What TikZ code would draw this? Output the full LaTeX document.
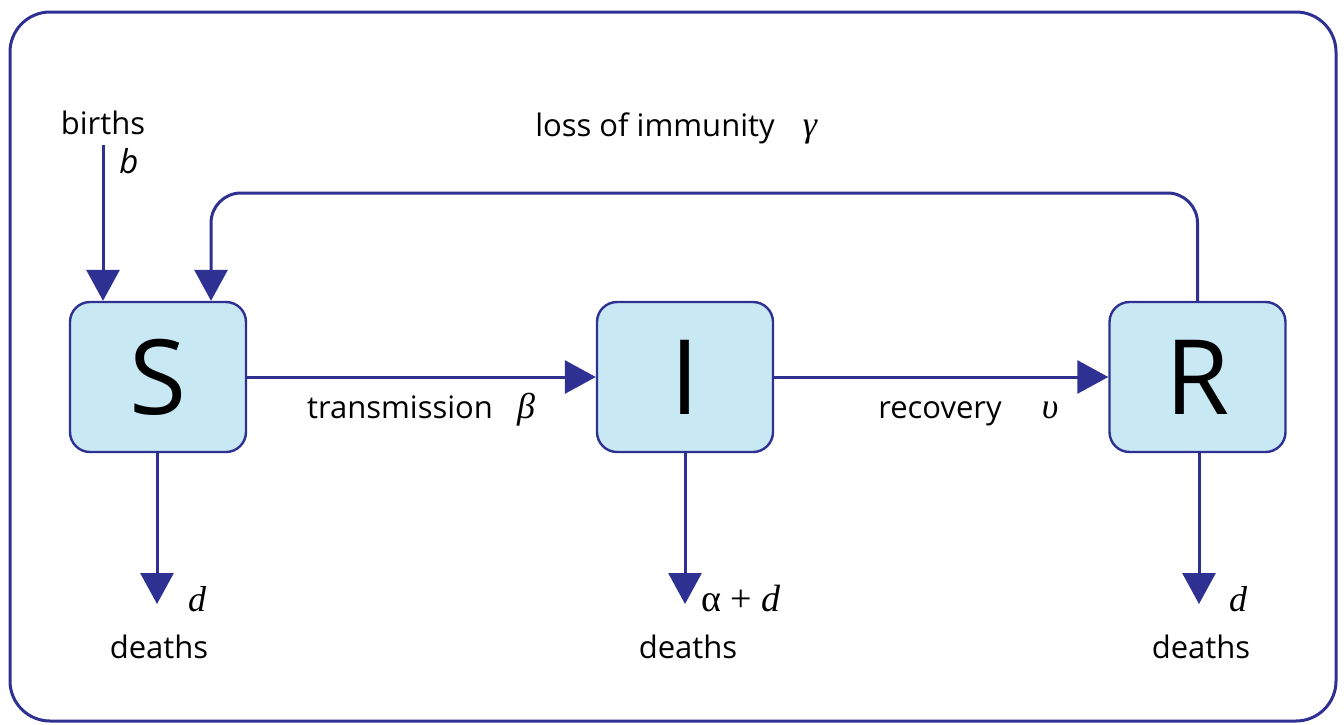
\documentclass[tikz,border=0pt]{standalone}
\usepackage{fontspec}
\setmainfont{Open Sans}
\newfontfamily\grk{Liberation Serif}
\usetikzlibrary{arrows.meta}
\definecolor{lineblue}{RGB}{46,49,146}
\definecolor{boxfill}{RGB}{200,232,243}
\begin{document}
\begin{tikzpicture}[x=0.5pt,y=-0.5pt,
  compbox/.style={draw=lineblue,line width=1.2pt,fill=boxfill,rounded corners=10pt,
    minimum width=88pt,minimum height=75pt,inner sep=0pt,font=\fontsize{52}{52}\selectfont},
  flow/.style={draw=lineblue,line width=1.5pt,-{Triangle[length=15.5pt,width=16.5pt]}},
  lbl/.style={font=\fontsize{15.5}{18}\selectfont,inner sep=0pt,anchor=base},
  sym/.style={font=\fontsize{18}{20}\selectfont\grk\itshape,inner sep=0pt,anchor=base}]
\useasboundingbox (0,0) rectangle (1344,724);
\draw[lineblue,line width=1.5pt,rounded corners=20pt] (10,12) rectangle (1336,721);
% boxes
\node[compbox] (S) at (158,377) {S};
\node[compbox] (I) at (685,377) {I};
\node[compbox] (R) at (1197.5,377) {R};
% births
\node[lbl] (births) at (103,134) {births};
\coordinate (bt) at (103,145);
\draw[flow] (bt) -- (bt |- S.north);
\node[font=\fontsize{16.5}{18}\selectfont\itshape,inner sep=0pt,anchor=base] (bl) at (129,173) {b};
% loss of immunity loop
\coordinate (lt) at (211,193);
\draw[flow,rounded corners=15pt] (R.north) -- (R.north |- lt) -- (lt) -- (lt |- S.north);
\node[lbl] (loss) at (655,136) {loss of immunity};
\node[sym] (gam) at (810,136) {γ};
% transmission
\draw[flow] (S.east) -- (I.west);
\node[lbl] (trans) at (400,418) {transmission};
\node[sym] (bet) at (526,418) {β};
% recovery
\draw[flow] (I.east) -- (R.west);
\node[lbl] (rec) at (940,418) {recovery};
\node[sym] (ups) at (1050,418) {υ};
% deaths
\coordinate (dS) at (157,604);
\coordinate (dI) at (685,604);
\coordinate (dR) at (1199,604);
\draw[flow] (S.south -| dS) -- (dS);
\draw[flow] (I.south -| dI) -- (dI);
\draw[flow] (R.south -| dR) -- (dR);
\node[sym] (dSl) at (197,611) {d};
\node[font=\fontsize{19}{20}\selectfont\grk,inner sep=0pt,anchor=base] (dIl) at (741,611) {α + \textit{d}};
\node[sym] (dRl) at (1238,611) {d};
\node[lbl] (deS) at (159,658) {deaths};
\node[lbl] (deI) at (688,658) {deaths};
\node[lbl] (deR) at (1201,658) {deaths};
\end{tikzpicture}
\end{document}
